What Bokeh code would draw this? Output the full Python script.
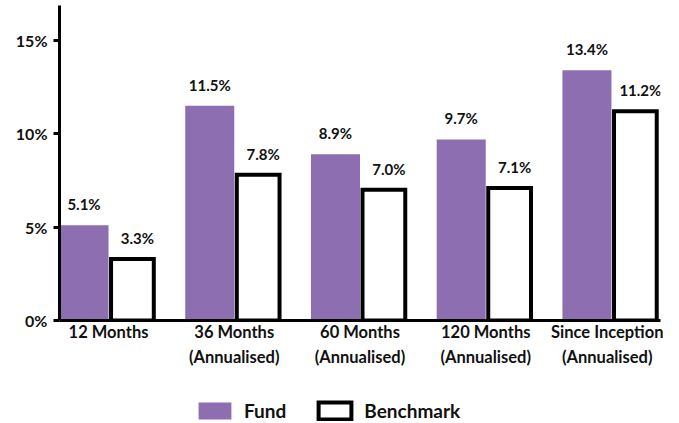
from bokeh.plotting import figure
from bokeh.layouts import column
from bokeh.models import Range1d, FixedTicker, Legend, LegendItem, ColumnDataSource
from bokeh.transform import dodge
from bokeh.core.properties import value
from bokeh.embed import file_html
from bokeh.resources import INLINE

categories = ["12 Months", "36 Months\n(Annualised)", "60 Months\n(Annualised)",
              "120 Months\n(Annualised)", "Since Inception\n(Annualised)"]
fund = [5.1, 11.5, 8.9, 9.7, 13.4]
benchmark = [3.3, 7.8, 7.0, 7.1, 11.2]
series_names = ["Fund", "Benchmark"]
y_ticks = [0, 5, 10, 15]
y_tick_labels = ["0%", "5%", "10%", "15%"]

FONT = "Lato"
PURPLE = "#8D6FB1"
TXT = "#111111"

idx = list(range(len(categories)))
src = ColumnDataSource(dict(
    x=idx, fund=fund, bench=benchmark,
    fund_lbl=[f"{v:.1f}%" for v in fund],
    bench_lbl=[f"{v:.1f}%" for v in benchmark],
))

p = figure(width=663, height=380, output_backend="svg", toolbar_location=None,
           x_range=Range1d(-0.39, 4.39), y_range=Range1d(0, 16.87),
           min_border_left=59, min_border_right=3, min_border_top=5,
           min_border_bottom=60)
p.outline_line_color = None
p.grid.visible = False
p.background_fill_color = "white"

fund_style = dict(fill_color=PURPLE, line_color=None)
bench_style = dict(fill_color="white", line_color="black", line_width=4, line_join="miter")

p.vbar(x=dodge("x", -0.195, range=p.x_range), top="fund", width=0.39, source=src, **fund_style)
p.vbar(x=dodge("x", 0.19, range=p.x_range), top="bench", width=0.34, source=src, **bench_style)

lbl_style = dict(text_align="center", text_baseline="alphabetic", y_offset=-21,
                 text_font=value(FONT), text_font_style="bold", text_font_size="15px",
                 text_color=TXT)
p.text(x=dodge("x", -0.195, range=p.x_range), y="fund", text="fund_lbl", source=src, **lbl_style)
p.text(x=dodge("x", 0.19, range=p.x_range), y="bench", text="bench_lbl", source=src,
       x_offset=5, **lbl_style)

for ax in (p.xaxis, p.yaxis):
    ax.axis_line_width = 3
    ax.axis_line_color = "black"
    ax.minor_tick_line_color = None
    ax.major_label_text_font = FONT
    ax.major_label_text_font_style = "bold"
    ax.major_label_text_color = TXT

p.xaxis.ticker = FixedTicker(ticks=idx)
p.xaxis.major_label_overrides = {i: c for i, c in zip(idx, categories)}
p.xaxis.major_tick_line_color = None
p.xaxis.major_tick_out = 0
p.xaxis.major_tick_in = 0
p.xaxis.major_label_standoff = 1
p.xaxis.major_label_text_font_size = "16.5px"
p.xaxis.major_label_text_line_height = 1.28

p.yaxis.ticker = FixedTicker(ticks=y_ticks)
p.yaxis.major_label_overrides = {t: l for t, l in zip(y_ticks, y_tick_labels)}
p.yaxis.major_tick_out = 6
p.yaxis.major_tick_in = 0
p.yaxis.major_tick_line_width = 3
p.yaxis.major_label_standoff = 6
p.yaxis.major_label_text_font_size = "16px"

# legend strip: hidden renderers sharing the data, used only for legend swatches
lg = figure(width=663, height=43, output_backend="svg", toolbar_location=None,
            x_range=Range1d(-0.39, 4.39), y_range=Range1d(0, 1),
            min_border_left=0, min_border_right=0, min_border_top=0, min_border_bottom=0)
lg.axis.visible = False
lg.grid.visible = False
lg.outline_line_color = None
l1 = lg.vbar(x="x", top="fund", width=0.39, source=src, visible=False, **fund_style)
l2 = lg.vbar(x="x", top="bench", width=0.34, source=src, visible=False, **bench_style)
legend = Legend(items=[LegendItem(label=series_names[0], renderers=[l1], index=0),
                       LegendItem(label=series_names[1], renderers=[l2], index=0)],
                location=(135, 1), orientation="horizontal", click_policy="none",
                glyph_width=41, glyph_height=21, label_standoff=9, spacing=28,
                padding=0, margin=0, border_line_color=None, background_fill_alpha=0,
                inactive_fill_alpha=0,
                label_text_font=FONT, label_text_font_style="bold",
                label_text_font_size="19px", label_text_color=TXT)
lg.add_layout(legend)

open("out.html", "w").write(file_html(column(p, lg, spacing=0), INLINE))
